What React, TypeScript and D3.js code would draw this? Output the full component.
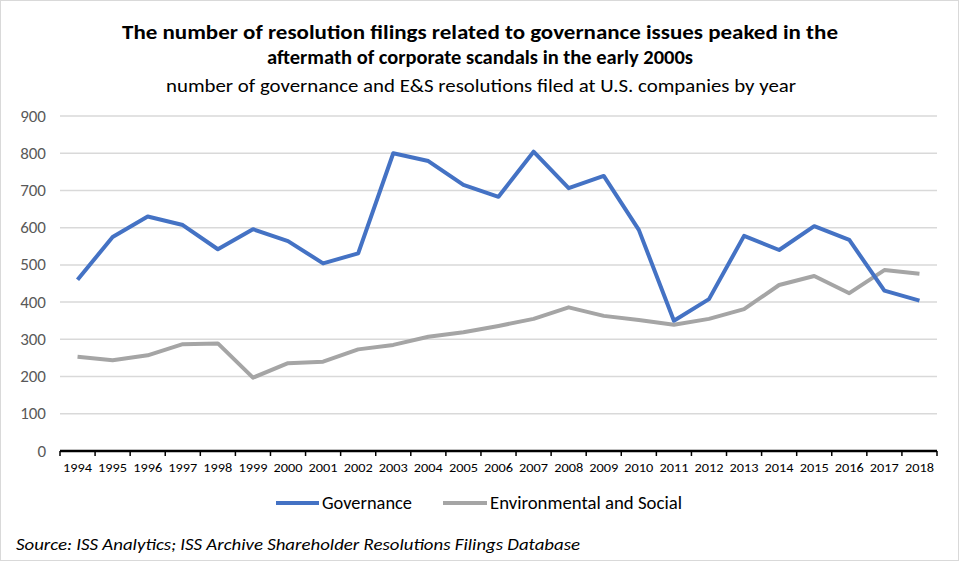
import React from "react";
import * as d3 from "d3";

const years = ["1994","1995","1996","1997","1998","1999","2000","2001","2002","2003","2004","2005","2006","2007","2008","2009","2010","2011","2012","2013","2014","2015","2016","2017","2018"];
const governance = [460,575,630,607,542,596,564,504,531,800,779,715,683,804,706,739,594,350,408,578,540,604,567,431,404];
const envSocial = [253,244,257,287,289,197,236,240,273,285,307,319,336,355,386,363,352,339,355,381,446,470,424,486,476];
const yTicks = [0,100,200,300,400,500,600,700,800,900];

const W = 961, H = 563;
const left = 60, right = 937, top = 116, bottom = 451;
const FONT = "Carlito, Calibri, 'Liberation Sans Narrow', 'Open Sans', sans-serif";

export default function App() {
  const x = d3.scaleBand<string>().domain(years).range([left, right]);
  const y = d3.scaleLinear().domain([0, 900]).range([bottom, top]);
  const cx = (yr: string) => (x(yr) as number) + x.bandwidth() / 2;
  const line = d3.line<number>().x((_, i) => cx(years[i])).y((d) => y(d));
  const boundaries = years.map((yr) => x(yr) as number).concat([right]);
  return (
    <svg width={W} height={H} style={{ position: "fixed", left: 0, top: 0, background: "#fff" }} fontFamily={FONT}>
      <rect x={0.5} y={0.5} width={958} height={560} fill="#fff" stroke="#d9d9d9" strokeWidth={1} />
      <text x={480} y={39} textAnchor="middle" fontSize={20.5} fontWeight="bold" fill="#000" textLength={716} lengthAdjust="spacingAndGlyphs">The number of resolution filings related to governance issues peaked in the</text>
      <text x={480} y={64} textAnchor="middle" fontSize={20.5} fontWeight="bold" fill="#000" textLength={426} lengthAdjust="spacingAndGlyphs">aftermath of corporate scandals in the early 2000s</text>
      <text x={481} y={92} textAnchor="middle" fontSize={19} fill="#000" textLength={630} lengthAdjust="spacingAndGlyphs">number of governance and E&amp;S resolutions filed at U.S. companies by year</text>
      {yTicks.map((t) => (
        <g key={t}>
          {t > 0 && <line x1={left} x2={right} y1={y(t)} y2={y(t)} stroke="#d9d9d9" strokeWidth={1.5} />}
          <text x={46} y={y(t) + 5.5} textAnchor="end" fontSize={17} fill="#595959">{t}</text>
        </g>
      ))}
      <line x1={left} x2={right} y1={bottom} y2={bottom} stroke="#000" strokeWidth={2.5} />
      {boundaries.map((b, i) => (
        <line key={i} x1={b} x2={b} y1={bottom} y2={bottom + 5} stroke="#000" strokeWidth={1.5} />
      ))}
      {years.map((yr) => (
        <text key={yr} x={cx(yr)} y={472} textAnchor="middle" fontSize={12.5} fill="#000" textLength={29} lengthAdjust="spacingAndGlyphs">{yr}</text>
      ))}
      <path d={line(envSocial) as string} fill="none" stroke="#a5a5a5" strokeWidth={4} strokeLinejoin="round" />
      <path d={line(governance) as string} fill="none" stroke="#4472c4" strokeWidth={4} strokeLinejoin="round" />
      <line x1={276} x2={319} y1={503} y2={503} stroke="#4472c4" strokeWidth={4} />
      <text x={322} y={509} fontSize={17.5} fill="#000" textLength={90} lengthAdjust="spacingAndGlyphs">Governance</text>
      <line x1={443} x2={487} y1={503} y2={503} stroke="#a5a5a5" strokeWidth={4} />
      <text x={490} y={509} fontSize={17.5} fill="#000" textLength={192} lengthAdjust="spacingAndGlyphs">Environmental and Social</text>
      <text x={16} y={550} fontSize={16.5} fontStyle="italic" fill="#000" textLength={564} lengthAdjust="spacingAndGlyphs">Source: ISS Analytics; ISS Archive Shareholder Resolutions Filings Database</text>
    </svg>
  );
}
